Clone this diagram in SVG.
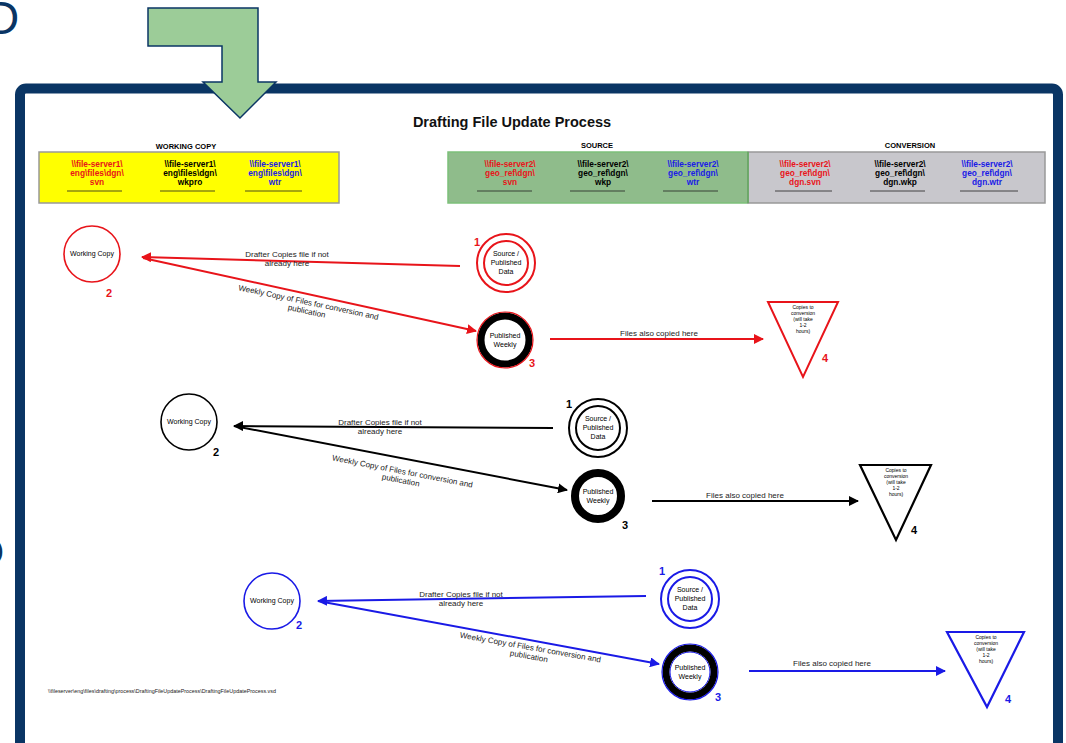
<svg xmlns="http://www.w3.org/2000/svg" width="1066" height="743" viewBox="0 0 1066 743">
<style>
text{font-family:"Liberation Sans",Arial,sans-serif}
.t{font-size:7px;text-anchor:middle}
.hd{font-size:7.5px;font-weight:bold;text-anchor:middle}
.bx{font-size:8.3px;text-anchor:middle;font-weight:bold}
.lb{font-size:8px;text-anchor:middle;fill:#222}
.num{font-size:11px;font-weight:bold;text-anchor:middle}
.red{stroke:#e8141a}.blk{stroke:#000}.blu{stroke:#1a1ae6}
</style>
<defs>
<marker id="ar" viewBox="0 0 10 10" refX="9" refY="5" markerWidth="5" markerHeight="5" orient="auto-start-reverse"><path d="M0,0 L10,5 L0,10 z" fill="#e8141a"/></marker>
<marker id="ab" viewBox="0 0 10 10" refX="9" refY="5" markerWidth="5" markerHeight="5" orient="auto-start-reverse"><path d="M0,0 L10,5 L0,10 z" fill="#000"/></marker>
<marker id="au" viewBox="0 0 10 10" refX="9" refY="5" markerWidth="5" markerHeight="5" orient="auto-start-reverse"><path d="M0,0 L10,5 L0,10 z" fill="#1a1ae6"/></marker>
</defs>
<rect width="1066" height="743" fill="#fff"/>
<text x="-14" y="34" font-size="46" fill="#0a3564">D</text>
<text x="-27" y="566" font-size="40" fill="#0a3564">O</text>
<rect x="20" y="88.5" width="1038" height="720" rx="6" fill="#fff" stroke="#0a3564" stroke-width="10"/>
<g id="bigarrow"><polygon points="148,8 258,8 258,82 276,82 240,118 203,82 222,82 222,46 148,46" fill="#9ccc98" stroke="#0a3564" stroke-width="1.5"/></g>
<text x="512" y="127" font-size="14.5" font-weight="bold" text-anchor="middle" fill="#111">Drafting File Update Process</text>
<g id="header-working">
<text class="hd" x="186" y="149">WORKING COPY</text>
<rect x="39" y="152" width="300" height="51" fill="#ffff00" stroke="#999" stroke-width="1.5"/>
<g class="bx" fill="#e8141a"><text x="97" y="167">\\file-server1\</text><text x="97" y="176">eng\files\dgn\</text><text x="97" y="185">svn</text></g>
<g class="bx" fill="#000"><text x="190" y="167">\\file-server1\</text><text x="190" y="176">eng\files\dgn\</text><text x="190" y="185">wkpro</text></g>
<g class="bx" fill="#1a1ae6"><text x="275" y="167">\\file-server1\</text><text x="275" y="176">eng\files\dgn\</text><text x="275" y="185">wtr</text></g>
<g stroke="#222" stroke-width="0.8"><line x1="67" y1="191" x2="122" y2="191"/><line x1="160" y1="191" x2="215" y2="191"/><line x1="245" y1="191" x2="302" y2="191"/></g>
</g>
<g id="header-source">
<text class="hd" x="597" y="148">SOURCE</text>
<rect x="448" y="152" width="300" height="51" fill="#8fbc8b" stroke="#7cc07a" stroke-width="1.5"/>
<g class="bx" fill="#e8141a"><text x="510" y="167">\\file-server2\</text><text x="510" y="176">geo_ref\dgn\</text><text x="510" y="185">svn</text></g>
<g class="bx" fill="#000"><text x="603" y="167">\\file-server2\</text><text x="603" y="176">geo_ref\dgn\</text><text x="603" y="185">wkp</text></g>
<g class="bx" fill="#1a1ae6"><text x="693" y="167">\\file-server2\</text><text x="693" y="176">geo_ref\dgn\</text><text x="693" y="185">wtr</text></g>
<g stroke="#222" stroke-width="0.8"><line x1="477" y1="191" x2="532" y2="191"/><line x1="570" y1="191" x2="625" y2="191"/><line x1="663" y1="191" x2="718" y2="191"/></g>
</g>
<g id="header-conversion">
<text class="hd" x="910" y="148">CONVERSION</text>
<rect x="748" y="152" width="297" height="51" fill="#c8c7cc" stroke="#999" stroke-width="1.5"/>
<line x1="748" y1="152" x2="748" y2="203" stroke="#5faa5a" stroke-width="1.5"/>
<g class="bx" fill="#e8141a"><text x="805" y="167">\\file-server2\</text><text x="805" y="176">geo_ref\dgn\</text><text x="805" y="185">dgn.svn</text></g>
<g class="bx" fill="#000"><text x="900" y="167">\\file-server2\</text><text x="900" y="176">geo_ref\dgn\</text><text x="900" y="185">dgn.wkp</text></g>
<g class="bx" fill="#1a1ae6"><text x="987" y="167">\\file-server2\</text><text x="987" y="176">geo_ref\dgn\</text><text x="987" y="185">dgn.wtr</text></g>
<g stroke="#222" stroke-width="0.8"><line x1="775" y1="191" x2="832" y2="191"/><line x1="870" y1="191" x2="925" y2="191"/><line x1="960" y1="191" x2="1018" y2="191"/></g>
</g>

<g id="connectors" fill="none" stroke-width="2">
<line class="red" x1="460" y1="266" x2="142" y2="257" marker-end="url(#ar)"/>
<line class="red" x1="143" y1="258" x2="476" y2="331" marker-end="url(#ar)"/>
<line class="red" x1="550" y1="339" x2="763" y2="339" marker-end="url(#ar)"/>
<line class="blk" x1="553" y1="428" x2="234" y2="426" marker-end="url(#ab)"/>
<line class="blk" x1="234" y1="426" x2="567" y2="490" marker-end="url(#ab)"/>
<line class="blk" x1="652" y1="501" x2="858" y2="501" marker-end="url(#ab)"/>
<line class="blu" x1="646" y1="596" x2="318" y2="601" marker-end="url(#au)"/>
<line class="blu" x1="318" y1="601" x2="659" y2="664" marker-end="url(#au)"/>
<line class="blu" x1="749" y1="671" x2="945" y2="671" marker-end="url(#au)"/>
</g>
<g id="connector-labels">
<text class="lb" x="287" y="257">Drafter Copies file if not</text><text class="lb" x="287" y="266">already here</text>
<g transform="translate(308,305) rotate(12)"><text class="lb" x="0" y="0">Weekly Copy of Files for conversion and</text><text class="lb" x="0" y="9">publication</text></g>
<text class="lb" x="659" y="336">Files also copied here</text>
<text class="lb" x="380" y="425">Drafter Copies file if not</text><text class="lb" x="380" y="434">already here</text>
<g transform="translate(402,474) rotate(11)"><text class="lb" x="0" y="0">Weekly Copy of Files for conversion and</text><text class="lb" x="0" y="9">publication</text></g>
<text class="lb" x="745" y="498">Files also copied here</text>
<text class="lb" x="461" y="597">Drafter Copies file if not</text><text class="lb" x="461" y="606">already here</text>
<g transform="translate(530,650) rotate(10)"><text class="lb" x="0" y="0">Weekly Copy of Files for conversion and</text><text class="lb" x="0" y="9">publication</text></g>
<text class="lb" x="832" y="666">Files also copied here</text>
</g>

<g id="wc-red"><circle cx="92" cy="254" r="28" fill="#fff" stroke="#e8141a" stroke-width="1.6"/><text class="t" x="92" y="256">Working Copy</text><text class="num" x="109" y="297" fill="#e8141a">2</text></g>
<g id="src-red"><circle cx="506" cy="263" r="29" fill="#fff" stroke="#e8141a" stroke-width="2"/><circle cx="506" cy="263" r="22" fill="none" stroke="#e8141a" stroke-width="2"/><text class="t" x="506" y="256">Source /</text><text class="t" x="506" y="265">Published</text><text class="t" x="506" y="274">Data</text><text class="num" x="477" y="246" fill="#e8141a">1</text></g>
<g id="pub-red"><circle cx="505" cy="340" r="24" fill="#fff" stroke="#000" stroke-width="7"/><circle cx="505" cy="340" r="28" fill="none" stroke="#e8141a" stroke-width="1.2"/><text class="t" x="505" y="338">Published</text><text class="t" x="505" y="347">Weekly</text><text class="num" x="532" y="367" fill="#e8141a">3</text></g>
<g id="tri-red"><polygon points="768,302 838,302 803,377" fill="#fff" stroke="#e8141a" stroke-width="2"/><g font-size="5" text-anchor="middle"><text x="803" y="309">Copies to</text><text x="803" y="315">conversion</text><text x="803" y="321">(will take</text><text x="803" y="327">1-2</text><text x="803" y="333">hours)</text></g><text class="num" x="825" y="362" fill="#e8141a">4</text></g>

<g id="wc-blk"><circle cx="189" cy="422" r="28" fill="#fff" stroke="#000" stroke-width="1.6"/><text class="t" x="189" y="424">Working Copy</text><text class="num" x="216" y="456" fill="#000">2</text></g>
<g id="src-blk"><circle cx="598" cy="428" r="29" fill="#fff" stroke="#000" stroke-width="2"/><circle cx="598" cy="428" r="22" fill="none" stroke="#000" stroke-width="2"/><text class="t" x="598" y="421">Source /</text><text class="t" x="598" y="430">Published</text><text class="t" x="598" y="439">Data</text><text class="num" x="569" y="408" fill="#000">1</text></g>
<g id="pub-blk"><circle cx="598" cy="496" r="23" fill="#fff" stroke="#000" stroke-width="8"/><text class="t" x="598" y="494">Published</text><text class="t" x="598" y="503">Weekly</text><text class="num" x="625" y="529" fill="#000">3</text></g>
<g id="tri-blk"><polygon points="860,465 931,465 896,540" fill="#fff" stroke="#000" stroke-width="2.2"/><g font-size="5" text-anchor="middle"><text x="896" y="472">Copies to</text><text x="896" y="478">conversion</text><text x="896" y="484">(will take</text><text x="896" y="490">1-2</text><text x="896" y="496">hours)</text></g><text class="num" x="914" y="534" fill="#000" font-family="Liberation Serif,serif">4</text></g>

<g id="wc-blu"><circle cx="272" cy="601" r="28" fill="#fff" stroke="#1a1ae6" stroke-width="1.6"/><text class="t" x="272" y="603">Working Copy</text><text class="num" x="299" y="629" fill="#1a1ae6">2</text></g>
<g id="src-blu"><circle cx="690" cy="599" r="29" fill="#fff" stroke="#1a1ae6" stroke-width="2"/><circle cx="690" cy="599" r="22" fill="none" stroke="#1a1ae6" stroke-width="2"/><text class="t" x="690" y="592">Source /</text><text class="t" x="690" y="601">Published</text><text class="t" x="690" y="610">Data</text><text class="num" x="662" y="575" fill="#1a1ae6">1</text></g>
<g id="pub-blu"><circle cx="690" cy="672" r="24" fill="#fff" stroke="#000" stroke-width="7"/><circle cx="690" cy="672" r="28" fill="none" stroke="#1a1ae6" stroke-width="1.2"/><circle cx="690" cy="672" r="20" fill="none" stroke="#1a1ae6" stroke-width="1"/><text class="t" x="690" y="670">Published</text><text class="t" x="690" y="679">Weekly</text><text class="num" x="718" y="701" fill="#1a1ae6">3</text></g>
<g id="tri-blu"><polygon points="947,632 1024,632 987,707" fill="#fff" stroke="#1a1ae6" stroke-width="2.2"/><g font-size="5" text-anchor="middle"><text x="986" y="639">Copies to</text><text x="986" y="645">conversion</text><text x="986" y="651">(will take</text><text x="986" y="657">1-2</text><text x="986" y="663">hours)</text></g><text class="num" x="1008" y="703" fill="#1a1ae6">4</text></g>

<text x="48" y="693" font-size="5.4" fill="#222">\\fileserver\eng\files\drafting\process\DraftingFileUpdateProcess\DraftingFileUpdateProcess.vsd</text>
</svg>
